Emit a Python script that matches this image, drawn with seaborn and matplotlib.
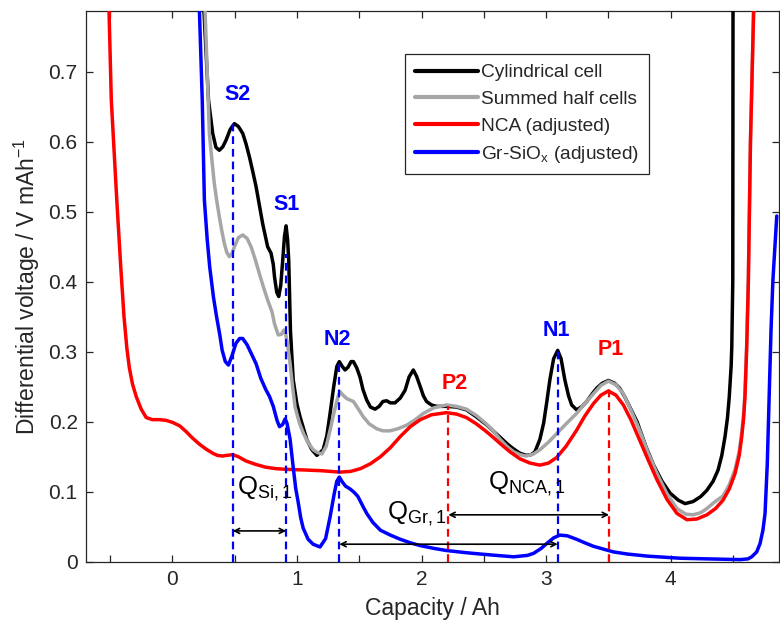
import numpy as np
import pandas as pd
import matplotlib
matplotlib.use("Agg")
import matplotlib.pyplot as plt
import seaborn as sns

# ---------------- data ----------------
cyl_x = [0.25, 0.29, 0.324, 0.35, 0.377, 0.405, 0.43, 0.465, 0.498, 0.53, 0.565, 0.59, 0.618, 0.645,
         0.672, 0.70, 0.725, 0.765, 0.792, 0.81, 0.82, 0.838, 0.854, 0.87, 0.886, 0.90, 0.913, 0.925,
         0.934, 0.948, 0.97, 1.0, 1.025, 1.08, 1.12, 1.16, 1.21, 1.24, 1.266, 1.295, 1.32, 1.34, 1.36,
         1.386, 1.41, 1.435, 1.453, 1.48, 1.506, 1.53, 1.56, 1.59, 1.627, 1.66, 1.69, 1.72, 1.75, 1.787,
         1.83, 1.868, 1.90, 1.934, 1.96, 1.99, 2.015, 2.04, 2.08, 2.12, 2.20, 2.28, 2.36, 2.44, 2.52,
         2.58, 2.63, 2.69, 2.74, 2.79, 2.84, 2.88, 2.91, 2.95, 2.98, 3.005, 3.03, 3.06, 3.093, 3.12,
         3.15, 3.18, 3.205, 3.245, 3.29, 3.326, 3.37, 3.406, 3.45, 3.50, 3.55, 3.59, 3.63, 3.68, 3.73,
         3.80, 3.86, 3.93, 3.995, 4.06, 4.115, 4.18, 4.24, 4.29, 4.34, 4.38, 4.41, 4.436, 4.455, 4.47,
         4.485, 4.49, 4.498, 4.50]
cyl_y = [0.80, 0.66, 0.612, 0.592, 0.588, 0.593, 0.602, 0.618, 0.626, 0.622, 0.612, 0.598, 0.579, 0.558,
         0.536, 0.508, 0.483, 0.450, 0.441, 0.425, 0.407, 0.385, 0.379, 0.395, 0.431, 0.465, 0.480, 0.460,
         0.431, 0.330, 0.260, 0.225, 0.207, 0.174, 0.160, 0.152, 0.160, 0.180, 0.212, 0.250, 0.279, 0.286, 0.280,
         0.274, 0.278, 0.286, 0.286, 0.277, 0.264, 0.246, 0.231, 0.221, 0.218, 0.222, 0.229, 0.230, 0.227, 0.227,
         0.234, 0.245, 0.264, 0.274, 0.265, 0.250, 0.237, 0.229, 0.224, 0.222, 0.222, 0.221, 0.217, 0.207, 0.196,
         0.186, 0.178, 0.168, 0.161, 0.155, 0.152, 0.153, 0.157, 0.175, 0.198, 0.228, 0.260, 0.290, 0.302, 0.290,
         0.260, 0.237, 0.224, 0.217, 0.222, 0.229, 0.240, 0.248, 0.255, 0.259, 0.255, 0.248, 0.236, 0.218, 0.200,
         0.165, 0.139, 0.115, 0.098, 0.088, 0.083, 0.086, 0.093, 0.102, 0.115, 0.131, 0.152, 0.179, 0.205, 0.236,
         0.280, 0.307, 0.400, 0.80]

sum_x = [0.26, 0.28, 0.297, 0.317, 0.337, 0.357, 0.377, 0.397, 0.417, 0.437, 0.457, 0.478, 0.498, 0.53,
         0.565, 0.60, 0.632, 0.665, 0.698, 0.73, 0.765, 0.80, 0.82, 0.85, 0.875, 0.895, 0.91, 0.925, 0.945,
         0.965, 0.985, 1.02, 1.053, 1.09, 1.13, 1.165, 1.20, 1.235, 1.266, 1.30, 1.33, 1.346, 1.37, 1.40,
         1.453, 1.49, 1.533, 1.58, 1.64, 1.69, 1.747, 1.81, 1.88, 1.95, 2.015, 2.10, 2.20, 2.28, 2.36, 2.44,
         2.52, 2.58, 2.63, 2.69, 2.74, 2.79, 2.84, 2.90, 2.95, 3.02, 3.085, 3.16, 3.245, 3.31, 3.38, 3.44,
         3.50, 3.56, 3.62, 3.68, 3.75, 3.82, 3.89, 3.97, 4.05, 4.12, 4.18, 4.24, 4.29, 4.35, 4.42, 4.47,
         4.516, 4.55, 4.57, 4.585, 4.596, 4.61, 4.623, 4.64, 4.667]
sum_y = [0.80, 0.70, 0.612, 0.575, 0.540, 0.515, 0.493, 0.473, 0.455, 0.442, 0.436, 0.440, 0.450, 0.463,
         0.467, 0.462, 0.450, 0.432, 0.412, 0.393, 0.374, 0.357, 0.340, 0.324, 0.325, 0.331, 0.325, 0.310, 0.283,
         0.250, 0.221, 0.198, 0.183, 0.170, 0.160, 0.156, 0.154, 0.165, 0.188, 0.215, 0.236, 0.243, 0.238, 0.233,
         0.229, 0.219, 0.207, 0.197, 0.190, 0.187, 0.187, 0.190, 0.195, 0.203, 0.212, 0.220, 0.224, 0.222, 0.218, 0.209,
         0.197, 0.186, 0.175, 0.164, 0.157, 0.153, 0.151, 0.154, 0.160, 0.171, 0.183, 0.197, 0.212, 0.226, 0.240, 0.252,
         0.258, 0.253, 0.240, 0.217, 0.188, 0.155, 0.126, 0.097, 0.076, 0.068, 0.067, 0.070, 0.076, 0.085, 0.094, 0.110,
         0.132, 0.158, 0.185, 0.211, 0.242, 0.313, 0.405, 0.60, 0.80]

nca_x = [-0.51, -0.49, -0.446, -0.414, -0.388, -0.365, -0.345, -0.32, -0.29, -0.25, -0.21, -0.16, -0.104,
         -0.05, 0.003, 0.06, 0.11, 0.16, 0.217, 0.27, 0.324, 0.36, 0.40, 0.44, 0.485, 0.53, 0.59, 0.67, 0.75,
         0.83, 0.91, 1.07, 1.20, 1.346, 1.43, 1.51, 1.59, 1.67, 1.75, 1.83, 1.91, 1.99, 2.08, 2.20, 2.28, 2.36,
         2.44, 2.52, 2.58, 2.63, 2.71, 2.79, 2.87, 2.95, 3.02, 3.085, 3.16, 3.245, 3.31, 3.38, 3.44, 3.50, 3.56,
         3.62, 3.68, 3.75, 3.82, 3.89, 3.97, 4.05, 4.13, 4.21, 4.29, 4.36, 4.42, 4.47, 4.516, 4.55, 4.57, 4.585,
         4.596, 4.61, 4.623, 4.64, 4.667]
nca_y = [0.80, 0.66, 0.517, 0.421, 0.350, 0.305, 0.277, 0.254, 0.236, 0.218, 0.206, 0.203, 0.203,
         0.202, 0.199, 0.194, 0.186, 0.177, 0.168, 0.161, 0.155, 0.152, 0.151, 0.152, 0.153, 0.150, 0.144, 0.139, 0.135,
         0.133, 0.132, 0.131, 0.130, 0.128, 0.129, 0.133, 0.140, 0.150, 0.163, 0.179, 0.193, 0.203, 0.210, 0.213, 0.211, 0.206,
         0.197, 0.186, 0.177, 0.169, 0.157, 0.147, 0.141, 0.138, 0.141, 0.149, 0.165, 0.188, 0.208, 0.226, 0.238, 0.244, 0.238,
         0.224, 0.203, 0.174, 0.145, 0.117, 0.089, 0.069, 0.060, 0.061, 0.067, 0.076, 0.088, 0.104, 0.126, 0.152, 0.179, 0.205,
         0.236, 0.307, 0.400, 0.60, 0.80]

gr_x = [0.215, 0.24, 0.257, 0.28, 0.30, 0.33, 0.355, 0.38, 0.40, 0.425, 0.45, 0.48, 0.51, 0.54, 0.565,
        0.60, 0.64, 0.672, 0.71, 0.75, 0.78, 0.81, 0.84, 0.86, 0.885, 0.905, 0.92, 0.945, 0.97, 0.99, 1.01,
        1.03, 1.05, 1.09, 1.13, 1.185, 1.23, 1.266, 1.30, 1.32, 1.34, 1.36, 1.39, 1.426, 1.46, 1.49, 1.53,
        1.56, 1.61, 1.67, 1.75, 1.83, 1.91, 1.99, 2.10, 2.20, 2.35, 2.47, 2.60, 2.74, 2.85, 2.90, 2.96, 3.005,
        3.06, 3.11, 3.17, 3.245, 3.31, 3.38, 3.46, 3.54, 3.65, 3.81, 4.07, 4.30, 4.556, 4.62, 4.65, 4.69,
        4.717, 4.74, 4.757, 4.775, 4.79, 4.805, 4.82, 4.851]
gr_y = [0.80, 0.66, 0.517, 0.460, 0.421, 0.378, 0.350, 0.325, 0.302, 0.286, 0.281, 0.295, 0.312, 0.319, 0.319,
        0.310, 0.295, 0.283, 0.262, 0.246, 0.236, 0.222, 0.202, 0.193, 0.196, 0.204, 0.198, 0.175, 0.135, 0.105, 0.085,
        0.063, 0.048, 0.032, 0.025, 0.021, 0.033, 0.064, 0.098, 0.115, 0.121, 0.115, 0.108, 0.104, 0.099, 0.093, 0.079,
        0.069, 0.056, 0.045, 0.038, 0.032, 0.027, 0.023, 0.019, 0.016, 0.013, 0.011, 0.009, 0.007, 0.009, 0.012, 0.019, 0.026,
        0.034, 0.038, 0.037, 0.032, 0.027, 0.022, 0.018, 0.014, 0.011, 0.008, 0.005, 0.004, 0.003, 0.004, 0.007, 0.014,
        0.026, 0.045, 0.069, 0.140, 0.236, 0.331, 0.402, 0.494]

series_names = ["Cylindrical cell", "Summed half cells", "NCA (adjusted)", "Gr-SiO$_\\mathregular{x}$ (adjusted)"]
series_colors = ["#000000", "#a6a6a6", "#ff0000", "#0000ff"]

# peak markers: name, x position, top of dashed line, colour
peak_names = ["S2", "S1", "N2", "N1", "P2", "P1"]
peak_x = [0.485, 0.913, 1.34, 3.093, 2.215, 3.505]
peak_top = [0.626, 0.44, 0.286, 0.302, 0.222, 0.252]
peak_colors = ["#0000ff", "#0000ff", "#0000ff", "#0000ff", "#ff0000", "#ff0000"]
peak_label_x = [0.523, 0.917, 1.326, 3.085, 2.27, 3.52]
peak_label_y = [0.667, 0.511, 0.317, 0.331, 0.255, 0.303]

# capacity spans (arrows)
span_labels = ["Q$_\\mathregular{Si,1}$", "Q$_\\mathregular{Gr,1}$", "Q$_\\mathregular{NCA,1}$"]
span_x0 = [0.485, 1.34, 2.215]
span_x1 = [0.913, 3.093, 3.505]
span_y = [0.044, 0.025, 0.067]
span_label_x = [0.52, 1.726, 2.53]
span_label_y = [0.104, 0.068, 0.111]

x_ticks = [-0.5, 0, 0.5, 1, 1.5, 2, 2.5, 3, 3.5, 4, 4.5]
x_tick_labels = ["", "0", "", "1", "", "2", "", "3", "", "4", ""]
y_ticks = [0, 0.1, 0.2, 0.3, 0.4, 0.5, 0.6, 0.7]
y_tick_labels = ["0", "0.1", "0.2", "0.3", "0.4", "0.5", "0.6", "0.7"]

# ---------------- style ----------------
sns.set_theme(style="ticks")
plt.rcParams["font.family"] = ["Liberation Sans", "DejaVu Sans"]
plt.rcParams["mathtext.default"] = "regular"
plt.rcParams["axes.unicode_minus"] = False
dark = "#262626"

fig = plt.figure(figsize=(7.8, 6.29), dpi=100)
ax = fig.add_axes([86 / 780, 1 - 561.7 / 629, (779 - 86) / 780, (561.7 - 11) / 629])

curves = [(cyl_x, cyl_y), (sum_x, sum_y), (nca_x, nca_y), (gr_x, gr_y)]
for (xs, ys), name, col in zip(curves, series_names, series_colors):
    df = pd.DataFrame({"x": xs, "y": ys})
    sns.lineplot(data=df, x="x", y="y", sort=False, estimator=None, color=col,
                 linewidth=2.5, label=name, ax=ax, zorder=3)

for xp, yt, col in zip(peak_x, peak_top, peak_colors):
    ax.plot([xp, xp], [0, yt], linestyle=(0, (3.5, 2.2)), color=col, linewidth=1.6, zorder=4)

for name, lx, ly, col in zip(peak_names, peak_label_x, peak_label_y, peak_colors):
    ax.text(lx, ly, name, color=col, fontsize=15.5, fontweight="bold", ha="center", va="center", zorder=5)

for lab, x0, x1, yy, lx, ly in zip(span_labels, span_x0, span_x1, span_y, span_label_x, span_label_y):
    ax.annotate("", xy=(x1, yy), xytext=(x0, yy),
                arrowprops=dict(arrowstyle="<->", color="black", lw=1.2, shrinkA=0, shrinkB=0,
                                mutation_scale=9), zorder=5)
    ax.text(lx, ly, lab, fontsize=18.5, color="black", ha="left", va="center", zorder=5)

ax.set_xlim(-0.693, 4.869)
ax.set_ylim(0, 0.787)
ax.set_xticks(x_ticks)
ax.set_xticklabels(x_tick_labels)
ax.set_yticks(y_ticks)
ax.set_yticklabels(y_tick_labels)
ax.tick_params(direction="in", length=5, width=0.9, top=True, right=True, colors=dark,
               labelsize=15, labelcolor=dark, pad=6)
for sp in ax.spines.values():
    sp.set_visible(True)
    sp.set_color(dark)
    sp.set_linewidth(0.9)

ax.set_xlabel("Capacity / Ah", fontsize=16.5, color=dark, labelpad=6)
ax.set_ylabel("Differential voltage / V mAh$^{-1}$", fontsize=16.5, color=dark, labelpad=5)

leg = ax.legend(loc="upper left", bbox_to_anchor=(0.4608, 0.9214), borderaxespad=0,
                fontsize=13.8, frameon=True, fancybox=False, framealpha=1, edgecolor=dark,
                handlelength=3.3, handletextpad=0.15, labelspacing=0.48, borderpad=0.5)
leg.get_frame().set_linewidth(0.9)
for lh in leg.get_lines():
    lh.set_linewidth(3)

fig.savefig("out.png", dpi=100)
